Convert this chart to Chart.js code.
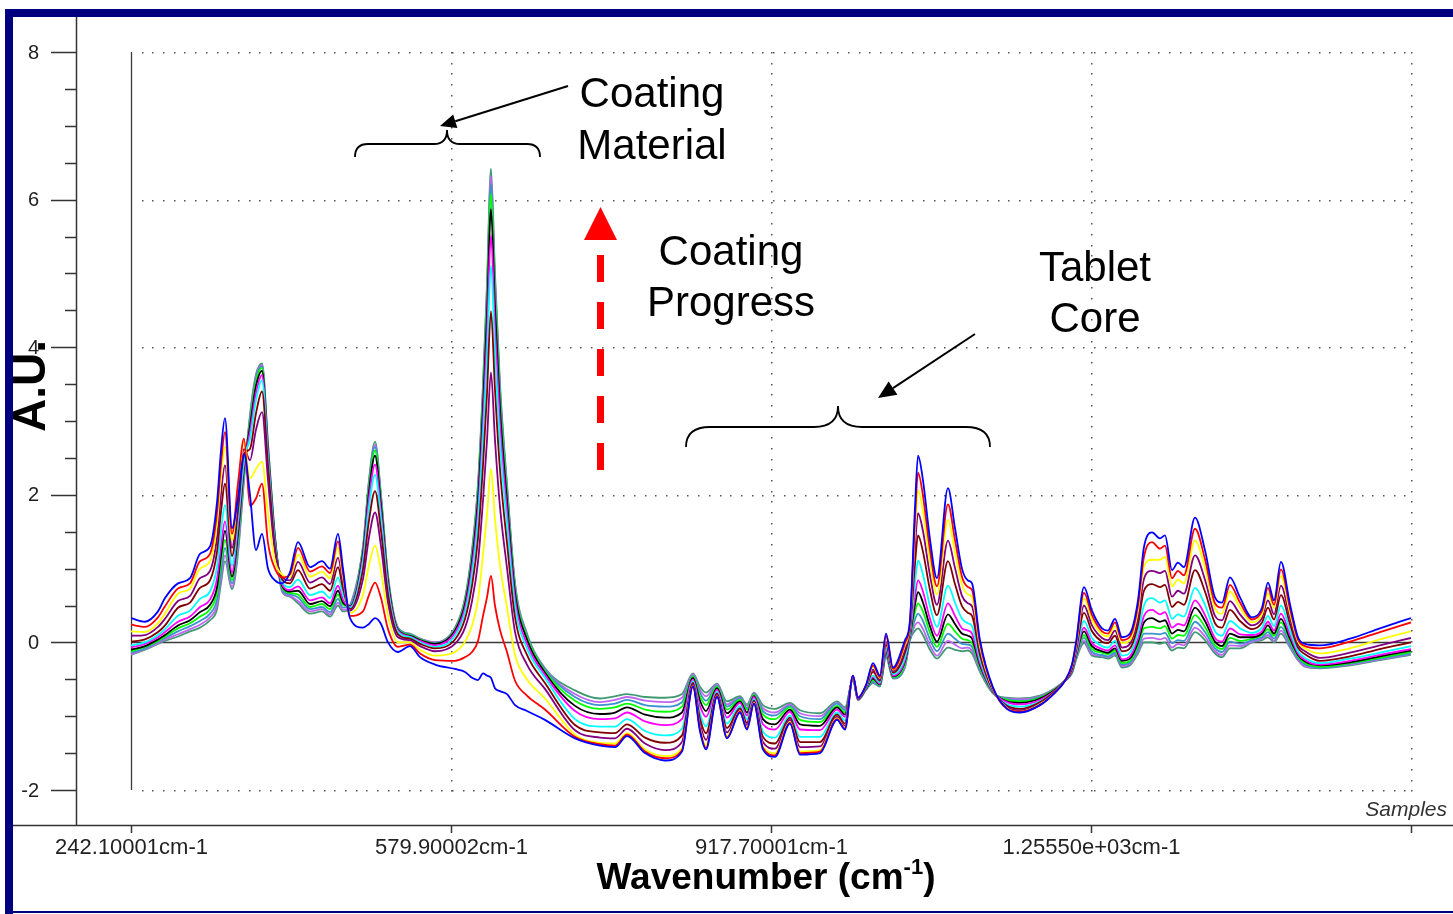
<!DOCTYPE html>
<html>
<head>
<meta charset="utf-8">
<script src="https://cdn.jsdelivr.net/npm/chart.js@4.4.1/dist/chart.umd.min.js"></script>
<style>
  html, body { margin: 0; padding: 0; background: #fff; }
  canvas { display: block; }
</style>
</head>
<body>
<canvas id="spectra" width="1453" height="914"></canvas>
<script>
// wavenumber (cm-1) of each sampled point
const wavenumbers = [
  242.1, 256.9, 270.6, 278.0, 291.7, 304.4, 314.9, 325.5, 332.9, 337.1,
  341.3, 348.7, 355.0, 361.4, 367.7, 374.0, 380.4, 386.7, 394.1, 401.5,
  409.9, 418.4, 431.1, 443.7, 452.2, 460.6, 465.9,
  473.3, 487.0, 493.3, 499.7, 506.0, 513.4, 523.9, 536.6, 547.2, 563.0,
  584.1, 594.7, 602.1, 608.4, 613.7, 617.9, 622.1, 626.3, 631.6, 639.0, 647.5, 660.1, 679.1,
  710.8, 737.2, 753.0, 765.7, 784.7, 805.8, 823.7, 835.3, 842.7, 849.1,
  860.7, 871.2, 885.0, 892.3, 899.7, 909.2, 921.9, 937.7, 948.3, 969.4,
  987.4, 995.8, 1004.2, 1009.5, 1018.0,
  1025.4, 1032.7, 1039.1, 1046.5, 1059.1, 1064.4, 1069.7, 1072.9, 1078.1, 1085.5,
  1092.9, 1104.5, 1111.9, 1119.3, 1125.6, 1129.9, 1138.3, 1152.0,
  1166.8, 1180.5, 1201.6, 1217.5, 1228.0, 1235.4,
  1239.6, 1248.1, 1256.5, 1267.1, 1273.4, 1280.8, 1288.2, 1296.6, 1305.1, 1311.4,
  1319.9, 1328.3, 1333.6, 1341.0, 1347.3, 1353.6, 1365.3, 1375.8, 1386.4, 1393.8,
  1402.2, 1412.8, 1425.4, 1436.0, 1442.3, 1448.7, 1456.0, 1465.5, 1474.0, 1481.4,
  1497.2, 1528.9, 1560.5, 1593.3
];

// one spectrum per sampling time, first (uncoated) to last (fully coated)
const blue = [
  .33,.28,.42,.60,.80,.87,1.20,1.30,1.90,2.60,
  3.04,1.55,1.95,2.55,2.00,1.25,1.47,1.00,.84,.80,
  .95,1.36,1.02,1.10,1.00,1.47,1.00,
  .33,.20,.25,.33,.25,.00,-.13,-.05,-.20,-.30,
  -.36,-.40,-.48,-.51,-.42,-.45,-.48,-.62,-.66,-.70,-.85,-.93,-1.05,
  -1.30,-1.40,-1.42,-1.27,-1.50,-1.60,-1.48,-.60,-1.20,-1.45,
  -.74,-1.30,-.95,-1.18,-.83,-1.45,-1.55,-1.10,-1.52,-1.50,
  -1.05,-1.18,-.45,-.75,-.58,
  -.28,-.45,.12,-.34,.03,.30,1.83,2.53,2.20,1.40,
  .87,2.09,1.55,1.00,.84,.80,.03,-.61,
  -.90,-.95,-.85,-.68,-.52,-.30,
  -.01,.75,.43,.19,.16,.32,.07,.12,.57,1.29,
  1.49,1.41,1.45,.98,1.08,1.02,1.69,1.25,.61,.54,
  .88,.61,.34,.47,.81,.57,1.09,.52,.07,-.02,
  -.04,.05,.19,.33
];
const red = [
  .24,.21,.34,.49,.73,.80,1.10,1.20,1.76,2.42,
  2.85,1.47,2.15,2.76,1.85,1.95,2.15,1.35,1.00,.88,
  .92,1.28,.96,1.03,.94,1.37,.94,
  .36,.42,.64,.81,.60,.18,-.06,-.03,-.15,-.24,
  -.25,-.20,-.13,.02,.36,.61,.90,.50,.17,-.13,-.52,-.72,-.91,
  -1.28,-1.38,-1.40,-1.25,-1.48,-1.57,-1.46,-.59,-1.18,-1.43,
  -.73,-1.29,-.94,-1.17,-.83,-1.43,-1.53,-1.09,-1.50,-1.48,
  -1.04,-1.17,-.45,-.75,-.58,
  -.31,-.47,.09,-.36,-.01,.27,1.66,2.30,1.99,1.25,
  .76,1.87,1.39,.89,.75,.71,-.01,-.62,
  -.90,-.94,-.85,-.68,-.52,-.31,
  -.03,.67,.37,.15,.12,.27,.03,.08,.50,1.16,
  1.36,1.27,1.31,.87,.97,.91,1.54,1.13,.53,.47,
  .78,.54,.31,.43,.74,.51,.99,.46,.04,-.05,
  -.08,.01,.14,.27
];
const yellow = [
  .15,.14,.26,.39,.66,.73,1.00,1.10,1.61,2.24,
  2.65,1.38,2.05,2.72,2.22,2.35,2.45,1.75,1.10,.92,
  .88,1.19,.89,.96,.87,1.28,.88,
  .40,.65,1.05,1.31,.97,.37,.00,.00,-.10,-.18,
  -.13,.01,.23,.58,1.19,1.73,2.35,1.68,1.05,.47,-.17,-.50,-.76,
  -1.25,-1.36,-1.37,-1.23,-1.45,-1.54,-1.43,-.59,-1.16,-1.40,
  -.73,-1.27,-.93,-1.16,-.82,-1.41,-1.50,-1.08,-1.48,-1.46,
  -1.03,-1.16,-.46,-.75,-.59,
  -.33,-.48,.06,-.37,-.04,.25,1.50,2.06,1.78,1.10,
  .65,1.66,1.22,.78,.65,.61,-.06,-.63,
  -.89,-.94,-.84,-.68,-.52,-.32,
  -.06,.60,.31,.11,.08,.22,-.01,.03,.43,1.03,
  1.12,1.12,1.16,.76,.85,.80,1.38,1.01,.46,.39,
  .69,.47,.27,.38,.66,.46,.90,.40,.01,-.08,
  -.15,-.08,.04,.15
];
const purple = [
  .09,.10,.21,.32,.56,.63,.87,.97,1.42,2.01,
  2.40,1.28,1.90,2.62,2.47,2.88,3.12,2.20,1.22,.90,
  .84,1.09,.81,.88,.79,1.15,.81,
  .43,.86,1.42,1.76,1.30,.54,.07,.03,-.05,-.12,
  -.02,.20,.56,1.09,1.93,2.74,3.66,2.75,1.84,1.01,.14,-.30,-.63,
  -1.19,-1.29,-1.30,-1.17,-1.37,-1.46,-1.35,-.57,-1.10,-1.32,
  -.71,-1.22,-.91,-1.12,-.80,-1.35,-1.44,-1.05,-1.42,-1.41,
  -1.01,-1.13,-.46,-.76,-.60,
  -.37,-.50,.01,-.39,-.09,.21,1.28,1.75,1.51,.91,
  .51,1.38,1.01,.63,.53,.49,-.11,-.64,
  -.87,-.92,-.83,-.67,-.52,-.34,
  -.09,.50,.23,.06,.03,.16,-.07,-.02,.33,.86,
  .97,.94,.97,.62,.70,.66,1.18,.85,.36,.30,
  .56,.38,.23,.33,.57,.38,.77,.33,-.03,-.12,
  -.21,-.14,-.04,.06
];
const maroon = [
  .01,.04,.14,.23,.47,.54,.74,.84,1.23,1.77,
  2.15,1.17,1.78,2.55,2.62,3.10,3.40,2.40,1.28,.86,
  .80,.98,.73,.79,.70,1.02,.73,
  .45,.99,1.65,2.05,1.51,.65,.11,.05,-.02,-.08,
  .04,.32,.77,1.41,2.40,3.37,4.49,3.43,2.34,1.35,.34,-.17,-.55,
  -1.12,-1.22,-1.23,-1.11,-1.29,-1.36,-1.26,-.55,-1.03,-1.23,
  -.69,-1.16,-.89,-1.09,-.79,-1.28,-1.37,-1.02,-1.35,-1.35,
  -.98,-1.10,-.46,-.76,-.61,
  -.40,-.52,-.03,-.41,-.14,.18,1.06,1.45,1.23,.71,
  .37,1.10,.79,.49,.40,.36,-.17,-.65,
  -.86,-.90,-.81,-.66,-.52,-.36,
  -.12,.40,.15,.01,-.01,.09,-.12,-.08,.24,.70,
  .79,.75,.78,.48,.55,.51,.98,.69,.26,.20,
  .44,.29,.18,.27,.47,.31,.64,.25,-.07,-.16,
  -.25,-.19,-.09,.00
];
const cyan = [
  -.04,.00,.10,.18,.36,.43,.59,.69,1.02,1.50,
  1.86,1.04,1.66,2.47,2.76,3.28,3.55,2.50,1.33,.82,
  .75,.85,.64,.69,.60,.88,.65,
  .47,1.09,1.83,2.27,1.67,.73,.14,.07,.00,-.06,
  .09,.41,.92,1.65,2.76,3.85,5.11,3.93,2.71,1.61,.49,-.08,-.48,
  -1.04,-1.14,-1.14,-1.04,-1.20,-1.26,-1.17,-.53,-.96,-1.14,
  -.67,-1.10,-.86,-1.04,-.77,-1.21,-1.29,-.99,-1.28,-1.28,
  -.95,-1.06,-.47,-.76,-.62,
  -.45,-.54,-.08,-.43,-.20,.14,.81,1.11,.92,.49,
  .21,.77,.54,.32,.26,.22,-.23,-.66,
  -.84,-.87,-.80,-.66,-.52,-.37,
  -.15,.29,.06,-.05,-.07,.02,-.18,-.14,.13,.50,
  .60,.54,.57,.32,.38,.35,.74,.51,.15,.09,
  .29,.19,.13,.20,.36,.22,.50,.16,-.12,-.21,
  -.28,-.22,-.14,-.05
];
const magenta = [
  -.07,-.02,.07,.14,.28,.35,.48,.58,.86,1.30,
  1.64,.95,1.56,2.42,2.85,3.38,3.62,2.56,1.36,.79,
  .71,.76,.57,.61,.53,.77,.58,
  .48,1.16,1.95,2.41,1.77,.78,.16,.08,.02,-.04,
  .13,.47,1.03,1.80,2.99,4.17,5.52,4.27,2.96,1.78,.59,-.02,-.44,
  -.93,-1.04,-1.03,-.95,-1.07,-1.12,-1.04,-.50,-.86,-1.01,
  -.64,-1.02,-.82,-.99,-.74,-1.11,-1.18,-.94,-1.18,-1.19,
  -.91,-1.01,-.48,-.77,-.62,
  -.47,-.56,-.11,-.45,-.24,.11,.63,.84,.69,.32,
  .09,.53,.36,.19,.16,.12,-.28,-.67,
  -.81,-.84,-.78,-.65,-.52,-.39,
  -.18,.20,-.01,-.09,-.11,-.04,-.23,-.19,.05,.36,
  .44,.38,.41,.20,.25,.23,.57,.37,.06,.01,
  .19,.11,.10,.15,.28,.16,.39,.10,-.15,-.24,
  -.30,-.25,-.17,-.09
];
const black = [
  -.10,-.05,.04,.10,.23,.30,.41,.51,.75,1.18,
  1.51,.89,1.47,2.37,2.93,3.47,3.68,2.60,1.39,.77,
  .69,.70,.52,.56,.49,.70,.54,
  .49,1.21,2.04,2.53,1.86,.83,.17,.09,.03,-.02,
  .16,.52,1.11,1.94,3.19,4.44,5.87,4.55,3.17,1.92,.67,.04,-.41,
  -.86,-.97,-.95,-.88,-.98,-1.02,-.95,-.48,-.79,-.93,
  -.62,-.96,-.80,-.95,-.73,-1.04,-1.11,-.91,-1.11,-1.13,
  -.88,-.98,-.48,-.77,-.63,
  -.49,-.57,-.13,-.46,-.26,.09,.51,.68,.54,.22,
  .01,.38,.25,.12,.09,.05,-.31,-.67,
  -.80,-.82,-.76,-.64,-.52,-.39,
  -.19,.15,-.05,-.12,-.14,-.08,-.25,-.22,.00,.27,
  .33,.28,.30,.12,.17,.15,.47,.29,.01,-.05,
  .12,.07,.07,.12,.23,.12,.32,.05,-.17,-.26,
  -.31,-.27,-.19,-.11
];
const green = [
  -.12,-.06,.02,.08,.19,.26,.35,.45,.67,1.07,
  1.39,.84,1.40,2.32,2.98,3.53,3.72,2.63,1.41,.75,
  .67,.65,.48,.52,.45,.65,.51,
  .49,1.25,2.10,2.60,1.91,.86,.18,.10,.04,-.02,
  .17,.55,1.16,2.02,3.30,4.60,6.08,4.72,3.29,2.01,.72,.07,-.39,
  -.79,-.90,-.88,-.83,-.91,-.94,-.87,-.46,-.73,-.85,
  -.60,-.91,-.78,-.91,-.71,-.98,-1.04,-.88,-1.05,-1.08,
  -.86,-.95,-.49,-.77,-.63,
  -.51,-.58,-.15,-.47,-.29,.07,.41,.53,.42,.13,
  -.06,.25,.15,.05,.03,-.01,-.34,-.68,
  -.78,-.80,-.75,-.63,-.52,-.40,
  -.21,.10,-.09,-.14,-.16,-.11,-.28,-.25,-.04,.19,
  .21,.19,.22,.05,.10,.09,.37,.21,-.04,-.09,
  .06,.02,.05,.10,.18,.09,.27,.02,-.19,-.28,
  -.33,-.28,-.21,-.13
];
const steel = [
  -.14,-.08,.01,.06,.15,.22,.29,.39,.58,.96,
  1.28,.80,1.33,2.27,3.02,3.57,3.74,2.65,1.42,.73,
  .65,.61,.45,.48,.41,.59,.47,
  .50,1.27,2.14,2.65,1.95,.87,.19,.11,.04,-.01,
  .18,.57,1.20,2.07,3.38,4.70,6.21,4.83,3.38,2.07,.75,.09,-.37,
  -.74,-.85,-.83,-.78,-.85,-.87,-.81,-.45,-.68,-.79,
  -.59,-.87,-.76,-.89,-.70,-.93,-.99,-.86,-1.00,-1.04,
  -.83,-.92,-.49,-.78,-.64,
  -.53,-.59,-.17,-.48,-.31,.05,.31,.39,.29,.04,
  -.12,.12,.05,-.02,-.03,-.06,-.36,-.68,
  -.77,-.79,-.74,-.63,-.52,-.41,
  -.22,.06,-.13,-.17,-.19,-.14,-.30,-.27,-.09,.12,
  .12,.11,.13,-.01,.03,.02,.28,.14,-.08,-.13,
  .01,-.02,.03,.07,.14,.05,.21,-.02,-.21,-.30,
  -.34,-.29,-.22,-.15
];
const violet = [
  -.16,-.09,-.01,.04,.11,.18,.24,.34,.51,.87,
  1.18,.75,1.26,2.23,3.05,3.60,3.76,2.67,1.43,.71,
  .63,.56,.42,.45,.38,.54,.44,
  .50,1.28,2.17,2.68,1.97,.89,.20,.11,.05,.00,
  .19,.59,1.22,2.11,3.44,4.78,6.32,4.92,3.44,2.11,.78,.10,-.36,
  -.70,-.81,-.78,-.74,-.79,-.81,-.75,-.43,-.64,-.73,
  -.57,-.84,-.75,-.86,-.69,-.89,-.95,-.84,-.96,-1.00,
  -.82,-.90,-.50,-.78,-.64,
  -.54,-.59,-.19,-.48,-.33,.04,.23,.27,.18,-.04,
  -.18,.02,-.03,-.08,-.07,-.11,-.38,-.69,
  -.76,-.77,-.73,-.62,-.52,-.41,
  -.23,.02,-.16,-.18,-.20,-.16,-.32,-.29,-.12,.05,
  .06,.04,.06,-.07,-.02,-.04,.20,.08,-.12,-.17,
  -.04,-.05,.01,.05,.10,.02,.16,-.05,-.23,-.32,
  -.34,-.30,-.23,-.16
];
const seagreen = [
  -.17,-.10,-.02,.02,.08,.15,.20,.30,.45,.80,
  1.10,.72,1.20,2.20,3.08,3.63,3.78,2.70,1.44,.69,
  .62,.53,.39,.42,.35,.50,.42,
  .50,1.30,2.20,2.72,2.00,.90,.20,.12,.05,.00,
  .20,.60,1.25,2.15,3.50,4.86,6.42,5.00,3.50,2.15,.80,.12,-.35,
  -.65,-.76,-.73,-.70,-.74,-.75,-.70,-.42,-.60,-.68,
  -.56,-.80,-.73,-.84,-.68,-.85,-.90,-.82,-.92,-.96,
  -.80,-.88,-.50,-.78,-.64,
  -.55,-.60,-.20,-.49,-.34,.03,.16,.19,.10,-.10,
  -.22,-.07,-.10,-.12,-.11,-.15,-.40,-.69,
  -.75,-.76,-.72,-.62,-.52,-.42,
  -.24,-.01,-.18,-.20,-.22,-.18,-.34,-.31,-.15,.00,
  .00,-.02,.00,-.11,-.07,-.08,.14,.03,-.15,-.20,
  -.08,-.08,.00,.03,.07,.00,.12,-.07,-.24,-.33,
  -.35,-.31,-.24,-.17
];

const yTicks = [-2, 0, 2, 4, 6, 8];
const xTicks = [242.1, 579.9, 917.7, 1255.5, 1593.3];
const xTickLabels = ['242.10001cm-1', '579.90002cm-1', '917.70001cm-1', '1.25550e+03cm-1', ''];

const traces = [
  [blue, '#0000ff'], [red, '#ff0000'], [yellow, '#ffff00'], [purple, '#800080'],
  [maroon, '#800000'], [cyan, '#00ffff'], [magenta, '#ff00ff'], [black, '#000000'],
  [green, '#00ff00'], [steel, '#3a93cc'], [violet, '#c065f0'], [seagreen, '#3f9a72']
];

const FONT = '"Liberation Sans", Arial, sans-serif';

function seg(ctx, x1, y1, x2, y2) {
  ctx.beginPath(); ctx.moveTo(x1, y1); ctx.lineTo(x2, y2); ctx.stroke();
}

function arrow(ctx, x1, y1, x2, y2, head, half) {
  const a = Math.atan2(y2 - y1, x2 - x1);
  const bx = x2 - head * Math.cos(a), by = y2 - head * Math.sin(a);
  seg(ctx, x1, y1, bx, by);
  ctx.beginPath();
  ctx.moveTo(x2, y2);
  ctx.lineTo(bx + half * Math.sin(a), by - half * Math.cos(a));
  ctx.lineTo(bx - half * Math.sin(a), by + half * Math.cos(a));
  ctx.closePath(); ctx.fill();
}

// curly brace opening downwards, cusp pointing up
function brace(ctx, x1, x2, yEnd, yMid, xTip, yTip, r) {
  ctx.beginPath();
  ctx.moveTo(x1, yEnd);
  ctx.quadraticCurveTo(x1, yMid, x1 + r, yMid);
  ctx.lineTo(xTip - r, yMid);
  ctx.quadraticCurveTo(xTip, yMid, xTip, yTip);
  ctx.quadraticCurveTo(xTip, yMid, xTip + r, yMid);
  ctx.lineTo(x2 - r, yMid);
  ctx.quadraticCurveTo(x2, yMid, x2, yEnd);
  ctx.stroke();
}

const decor = {
  id: 'decor',
  beforeDatasetsDraw(chart) {
    const { ctx, chartArea: a, scales: { x, y } } = chart;
    ctx.save();
    ctx.fillStyle = '#555';
    yTicks.forEach(v => {
      if (v === 0) return;
      const py = Math.round(y.getPixelForValue(v));
      for (let px = a.left + 10.7; px <= a.right + 1; px += 10.7) ctx.fillRect(Math.round(px), py, 1.5, 1.5);
    });
    xTicks.slice(1).forEach(v => {
      const px = Math.round(x.getPixelForValue(v));
      for (let py = a.top; py <= a.bottom + 1; py += 10.7) ctx.fillRect(px, Math.round(py), 1.5, 1.5);
    });
    ctx.strokeStyle = '#3a3a3a';
    ctx.lineWidth = 1.3;
    const y0 = Math.round(y.getPixelForValue(0)) + 0.5;
    seg(ctx, a.left, y0, a.right, y0);
    seg(ctx, a.left + 0.5, a.top, a.left + 0.5, a.bottom);
    ctx.restore();
  },
  afterDraw(chart) {
    const { ctx, scales: { x, y } } = chart;
    ctx.save();

    // frame
    ctx.fillStyle = '#00007f';
    ctx.fillRect(5, 9, 1448, 8);
    ctx.fillRect(5, 9, 8, 905);
    ctx.fillRect(5, 911, 1448, 2);

    // left value axis
    ctx.strokeStyle = '#333';
    ctx.lineWidth = 1.5;
    seg(ctx, 76.5, 17, 76.5, 825);
    for (let v = yTicks[0]; v <= yTicks[yTicks.length - 1]; v += 0.5) {
      const py = Math.round(y.getPixelForValue(v)) + 0.5;
      const major = yTicks.includes(v);
      seg(ctx, major ? 51 : 65, py, 76, py);
    }
    ctx.fillStyle = '#222';
    ctx.font = '20px ' + FONT;
    ctx.textAlign = 'right';
    ctx.textBaseline = 'middle';
    yTicks.forEach(v => ctx.fillText(String(v), 39, y.getPixelForValue(v) + 1));

    // bottom axis
    seg(ctx, 13, 825.5, 1453, 825.5);
    ctx.textAlign = 'center';
    ctx.textBaseline = 'alphabetic';
    ctx.font = '22px ' + FONT;
    xTicks.forEach((v, i) => {
      const px = Math.round(x.getPixelForValue(v)) + 0.5;
      seg(ctx, px, 825, px, 833);
      if (xTickLabels[i]) ctx.fillText(xTickLabels[i], px, 854);
    });

    ctx.font = 'italic 21px ' + FONT;
    ctx.textAlign = 'right';
    ctx.fillStyle = '#333';
    ctx.fillText('Samples', 1447, 816);

    // axis titles
    ctx.fillStyle = '#000';
    ctx.textAlign = 'left';
    const main = 'Wavenumber (cm', sup = '-1', close = ')';
    ctx.font = 'bold 37px ' + FONT;
    const wMain = ctx.measureText(main).width, wClose = ctx.measureText(close).width;
    ctx.font = 'bold 22px ' + FONT;
    const wSup = ctx.measureText(sup).width;
    const tx = 766 - (wMain + wSup + wClose) / 2;
    ctx.font = 'bold 37px ' + FONT;
    ctx.fillText(main, tx, 889);
    ctx.font = 'bold 22px ' + FONT;
    ctx.fillText(sup, tx + wMain, 874);
    ctx.font = 'bold 37px ' + FONT;
    ctx.fillText(close, tx + wMain + wSup, 889);

    ctx.save();
    ctx.translate(32, 386);
    ctx.rotate(-Math.PI / 2);
    ctx.font = 'bold 46px ' + FONT;
    ctx.textAlign = 'center';
    ctx.textBaseline = 'middle';
    ctx.fillText('A.U.', 0, 0);
    ctx.restore();

    // annotations
    ctx.font = '42px ' + FONT;
    ctx.textAlign = 'center';
    ctx.fillText('Coating', 652, 107);
    ctx.fillText('Material', 652, 159);
    ctx.fillText('Coating', 731, 265);
    ctx.fillText('Progress', 731, 316);
    ctx.fillText('Tablet', 1095, 281);
    ctx.fillText('Core', 1095, 332);

    ctx.strokeStyle = '#000';
    ctx.fillStyle = '#000';
    ctx.lineWidth = 2;
    arrow(ctx, 568, 86, 440, 126, 16, 7);
    arrow(ctx, 975, 334, 878, 398, 18, 8);
    ctx.lineWidth = 1.8;
    brace(ctx, 355, 540, 157, 144, 447, 130, 13);
    brace(ctx, 686, 990, 447, 427, 838, 406, 24);

    // coating progress arrow
    ctx.strokeStyle = '#ff0000';
    ctx.fillStyle = '#ff0000';
    ctx.lineWidth = 7;
    ctx.setLineDash([27, 20]);
    seg(ctx, 600.5, 470, 600.5, 254);
    ctx.setLineDash([]);
    ctx.beginPath();
    ctx.moveTo(600.5, 207);
    ctx.lineTo(584, 240);
    ctx.lineTo(617, 240);
    ctx.closePath();
    ctx.fill();

    ctx.restore();
  }
};

const bg = {
  id: 'bg',
  beforeDraw(chart) {
    const { ctx, width, height } = chart;
    ctx.save();
    ctx.fillStyle = '#fff';
    ctx.fillRect(0, 0, width, height);
    ctx.restore();
  }
};

const datasets = traces.map(([vals, colour]) => ({
  data: wavenumbers.map((w, i) => ({ x: w, y: vals[i] })),
  borderColor: colour,
  borderWidth: 1.8,
  pointRadius: 0,
  cubicInterpolationMode: 'monotone',
  fill: false
}));

new Chart(document.getElementById('spectra').getContext('2d'), {
  type: 'line',
  data: { datasets },
  options: {
    responsive: false,
    animation: false,
    devicePixelRatio: 1,
    layout: { padding: { left: 131, top: 52, right: 42, bottom: 124 } },
    plugins: { legend: { display: false }, tooltip: { enabled: false } },
    scales: {
      x: { type: 'linear', min: 242.1, max: 1593.3, display: false },
      y: { type: 'linear', min: -2, max: 8, display: false }
    }
  },
  plugins: [bg, decor]
});
</script>
</body>
</html>
